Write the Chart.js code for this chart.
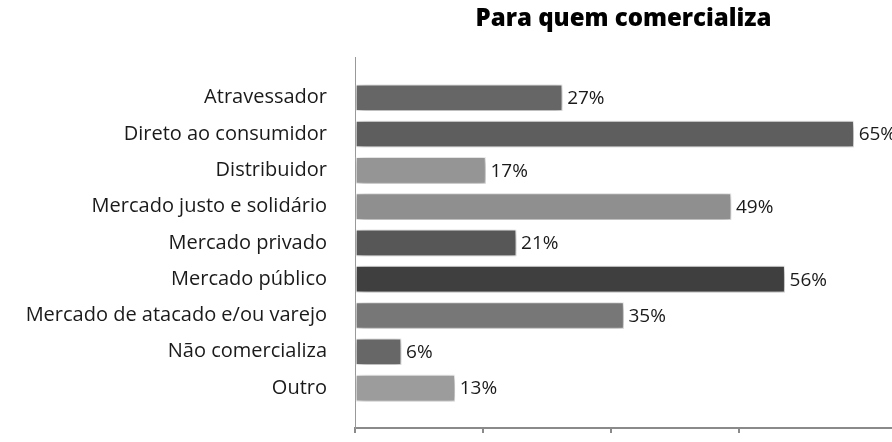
<!DOCTYPE html>
<html>
<head>
<meta charset="utf-8">
<script src="https://cdn.jsdelivr.net/npm/chart.js@4/dist/chart.umd.min.js"></script>
<style>
  html, body { margin: 0; padding: 0; background: #fff; }
  #wrap { width: 892px; height: 442px; }
</style>
</head>
<body>
<div id="wrap"><canvas id="myChart" width="892" height="442"></canvas></div>
<script>
const categories = [
  'Atravessador',
  'Direto ao consumidor',
  'Distribuidor',
  'Mercado justo e solidário',
  'Mercado privado',
  'Mercado público',
  'Mercado de atacado e/ou varejo',
  'Não comercializa',
  'Outro'
];
const values = [27, 65, 17, 49, 21, 56, 35, 6, 13];
const barColors = ['#666666', '#5e5e5e', '#959595', '#8f8f8f', '#575757', '#3f3f3f', '#777777', '#676767', '#9c9c9c'];
const xTicks = [0, 50 / 3, 100 / 3, 50];

const font = "'Open Sans', 'Noto Sans', sans-serif";

// bar shadow
const shadowPlugin = {
  id: 'shadow',
  beforeDatasetsDraw(chart) {
    const c = chart.ctx;
    c.save();
    c.shadowColor = 'rgba(0,0,0,0.4)';
    c.shadowBlur = 8;
    c.shadowOffsetX = 2;
    c.shadowOffsetY = 2;
  },
  afterDatasetsDraw(chart) {
    chart.ctx.restore();
  }
};

// percent labels at end of bars
const valueLabels = {
  id: 'valueLabels',
  afterDatasetsDraw(chart) {
    const c = chart.ctx;
    const meta = chart.getDatasetMeta(0);
    c.save();
    c.font = '19px ' + font;
    c.fillStyle = '#1a1a1a';
    c.textAlign = 'left';
    c.textBaseline = 'middle';
    meta.data.forEach((bar, i) => {
      c.fillText(values[i] + '%', bar.x + 5, bar.y + 1);
    });
    c.restore();
  }
};

new Chart(document.getElementById('myChart'), {
  type: 'bar',
  data: {
    datasets: [{
      data: values.map((v, i) => ({x: v, y: i})),
      backgroundColor: barColors,
      borderColor: '#ffffff',
      borderWidth: 1,
      borderSkipped: false,
      barThickness: 26
    }]
  },
  options: {
    indexAxis: 'y',
    responsive: false,
    animation: false,
    layout: { padding: { left: 0, right: 0, top: 0, bottom: 9 } },
    plugins: {
      legend: { display: false },
      tooltip: { enabled: false },
      title: {
        display: true,
        text: 'Para quem comercializa',
        fullSize: false,
        color: '#000',
        font: { family: font, size: 24, weight: '800' },
        lineHeight: 1.2,
        padding: { top: 5, bottom: 24 }
      }
    },
    scales: {
      x: {
        type: 'linear',
        min: 0,
        max: 70,
        afterBuildTicks(scale) {
          scale.ticks = xTicks.map(v => ({value: v}));
        },
        afterFit(scale) {
          scale.height = 5;
        },
        ticks: { display: false },
        grid: { drawOnChartArea: false, drawTicks: true, tickLength: 5, color: '#8a8a8a', lineWidth: 2 },
        border: { color: '#8a8a8a', width: 2 }
      },
      y: {
        type: 'linear',
        reverse: true,
        offset: false,
        min: -1.1,
        max: 9.1,
        afterBuildTicks(scale) {
          scale.ticks = categories.map((c, i) => ({value: i}));
        },
        afterFit(scale) {
          scale.width = 355;
          scale.paddingTop = 0;
          scale.paddingBottom = 0;
        },
        ticks: {
          callback: v => categories[v],
          color: '#1a1a1a',
          font: { family: font, size: 20 },
          padding: 28
        },
        grid: { display: false, drawTicks: false },
        border: { color: '#999', width: 1 }
      }
    }
  },
  plugins: [shadowPlugin, valueLabels]
});
</script>
</body>
</html>
